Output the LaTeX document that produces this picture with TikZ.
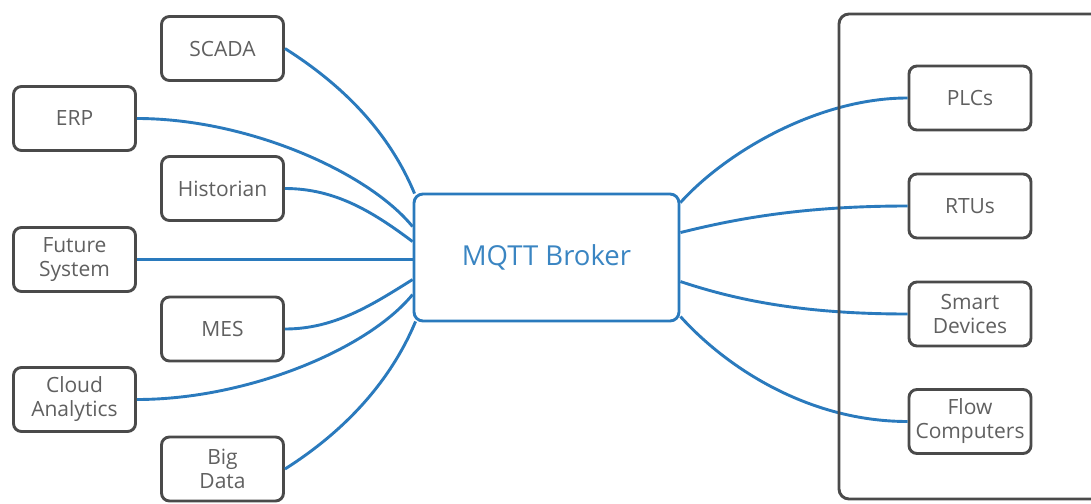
\documentclass[tikz,border=0pt]{standalone}
\usepackage{fontspec}
\setmainfont{Open Sans}
\usetikzlibrary{calc}
\definecolor{wirecol}{HTML}{2A7ABD}
\definecolor{framecol}{HTML}{4A4A4A}
\definecolor{labelcol}{HTML}{606060}
\definecolor{brokercol}{HTML}{3A85C2}
\begin{document}
\begin{tikzpicture}[x=1pt,y=-1pt,
  sysbox/.style={draw=framecol, line width=2.9pt, rounded corners=8pt, fill=white,
    minimum width=122pt, minimum height=64pt, align=center, text=labelcol,
    font=\fontsize{21}{24}\selectfont, inner sep=0pt},
  brokerbox/.style={draw=wirecol, line width=2.9pt, rounded corners=9pt, fill=white,
    minimum width=265pt, minimum height=127pt, text=brokercol,
    font=\fontsize{27.5}{31}\selectfont, inner sep=0pt},
  wire/.style={draw=wirecol, line width=2.9pt},
  enclosure/.style={draw=framecol, line width=2.9pt, rounded corners=10pt}]

% canvas
\fill[white] (0,0) rectangle (1091,503);
\useasboundingbox (0,0) rectangle (1091,503);

% enterprise side
\node[sysbox] (scada)  at (222.5,48.5)  {SCADA};
\node[sysbox] (erp)    at (74.5,118.5)  {ERP};
\node[sysbox] (hist)   at (222.5,188.5) {Historian};
\node[sysbox] (future) at (74.5,259.5)  {Future\\System};
\node[sysbox] (mes)    at (222.5,329)   {MES};
\node[sysbox] (cloud)  at (74.5,399.5)  {Cloud\\Analytics};
\node[sysbox] (big)    at (222.5,469)   {Big\\Data};

% broker
\node[brokerbox] (broker) at (546.5,257.5) {MQTT Broker};

% field side
\node[sysbox] (plc)   at (970,98)    {PLCs};
\node[sysbox] (rtu)   at (970,206)   {RTUs};
\node[sysbox] (smart) at (970,314)   {Smart\\Devices};
\node[sysbox] (flow)  at (970,421.5) {Flow\\Computers};

% connectors into the broker's left side
\draw[wire] (scada.east) .. controls +(60,38) and +(-25,-60) .. ($(broker.north west)+(2,1)$);
\draw[wire] (erp.east) .. controls +(110,0) and +(-45,-55) .. ($(broker.north west)+(0,34)$);
\draw[wire] (hist.east) .. controls +(50,0) and +(-40,-30) .. ($(broker.north west)+(0,49)$);
\draw[wire] (future.east) -- (future.east -| broker.west);
\draw[wire] (mes.east) .. controls +(50,0) and +(-40,25) .. ($(broker.north west)+(0,87)$);
\draw[wire] (cloud.east) .. controls +(110,0) and +(-45,55) .. ($(broker.north west)+(0,102)$);
\draw[wire] (big.east) .. controls +(60,-38) and +(-25,60) .. ($(broker.south west)+(3,-1)$);

% connectors out of the broker's right side
\draw[wire] ($(broker.north east)+(0,10)$) .. controls +(45,-50) and +(-90,0) .. (plc.west);
\draw[wire] ($(broker.north east)+(0,40)$) .. controls +(60,-15) and +(-100,0) .. (rtu.west);
\draw[wire] ($(broker.north east)+(0,89)$) .. controls +(60,20) and +(-100,0) .. (smart.west);
\draw[wire] ($(broker.north east)+(0,124)$) .. controls +(45,50) and +(-100,0) .. (flow.west);

% field-device enclosure, running off the right edge
\begin{scope}
  \clip (0,0) rectangle (1091,503);
  \draw[enclosure] (839,14) rectangle (1130,499);
\end{scope}
\end{tikzpicture}
\end{document}
